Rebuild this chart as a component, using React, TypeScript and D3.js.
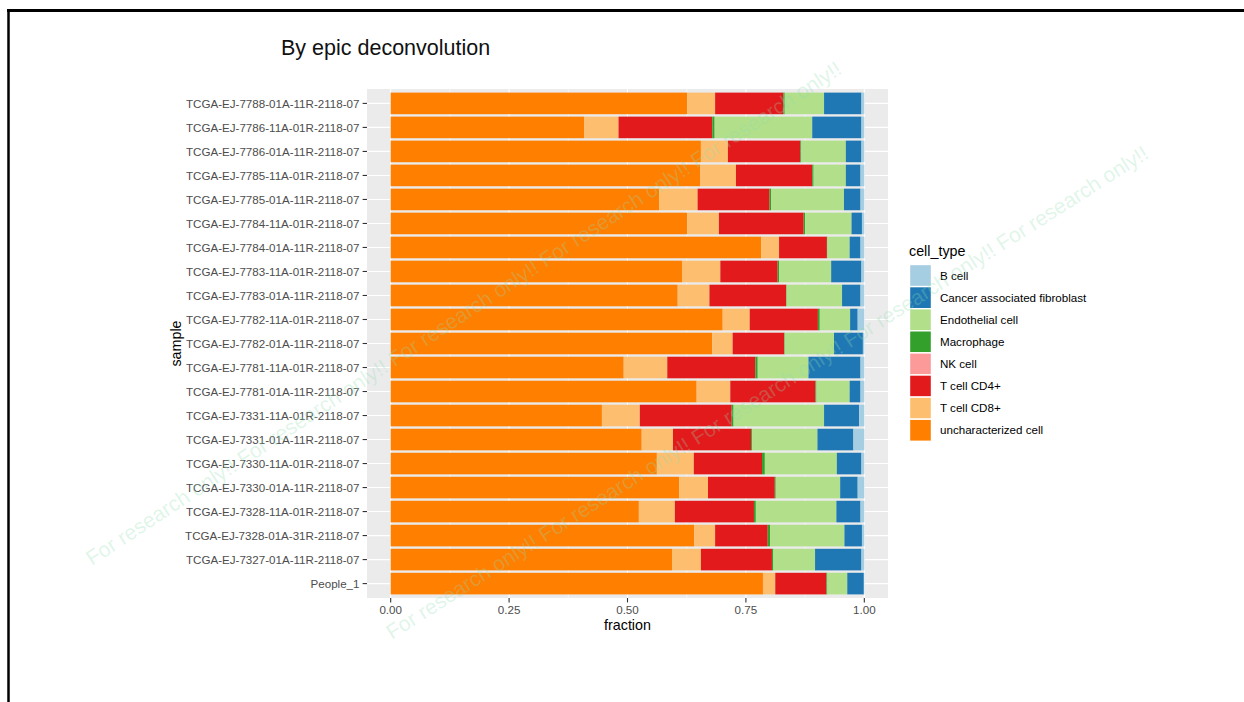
import React from "react";
import * as d3 from "d3";

const samples = [
  "TCGA-EJ-7788-01A-11R-2118-07",
  "TCGA-EJ-7786-11A-01R-2118-07",
  "TCGA-EJ-7786-01A-11R-2118-07",
  "TCGA-EJ-7785-11A-01R-2118-07",
  "TCGA-EJ-7785-01A-11R-2118-07",
  "TCGA-EJ-7784-11A-01R-2118-07",
  "TCGA-EJ-7784-01A-11R-2118-07",
  "TCGA-EJ-7783-11A-01R-2118-07",
  "TCGA-EJ-7783-01A-11R-2118-07",
  "TCGA-EJ-7782-11A-01R-2118-07",
  "TCGA-EJ-7782-01A-11R-2118-07",
  "TCGA-EJ-7781-11A-01R-2118-07",
  "TCGA-EJ-7781-01A-11R-2118-07",
  "TCGA-EJ-7331-11A-01R-2118-07",
  "TCGA-EJ-7331-01A-11R-2118-07",
  "TCGA-EJ-7330-11A-01R-2118-07",
  "TCGA-EJ-7330-01A-11R-2118-07",
  "TCGA-EJ-7328-11A-01R-2118-07",
  "TCGA-EJ-7328-01A-31R-2118-07",
  "TCGA-EJ-7327-01A-11R-2118-07",
  "People_1",
];

const uncharacterized = [0.626, 0.409, 0.655, 0.654, 0.567, 0.626, 0.782, 0.615, 0.606, 0.701, 0.679, 0.492, 0.646, 0.446, 0.530, 0.562, 0.609, 0.524, 0.641, 0.594, 0.786];
const tCD8 = [0.059, 0.072, 0.057, 0.075, 0.081, 0.067, 0.038, 0.081, 0.067, 0.057, 0.043, 0.092, 0.071, 0.080, 0.066, 0.078, 0.061, 0.076, 0.044, 0.061, 0.026];
const tCD4 = [0.144, 0.198, 0.153, 0.161, 0.152, 0.179, 0.101, 0.121, 0.162, 0.144, 0.109, 0.186, 0.180, 0.194, 0.165, 0.144, 0.141, 0.167, 0.111, 0.150, 0.108];
const nkCell = [0, 0, 0, 0, 0, 0, 0, 0, 0, 0, 0, 0, 0, 0, 0, 0, 0, 0, 0, 0, 0];
const macrophage = [0.003, 0.005, 0.002, 0.003, 0.003, 0.003, 0.001, 0.003, 0.001, 0.004, 0.001, 0.005, 0.002, 0.004, 0.002, 0.006, 0.002, 0.004, 0.005, 0.003, 0.002];
const endothelial = [0.083, 0.206, 0.094, 0.068, 0.154, 0.098, 0.047, 0.110, 0.117, 0.064, 0.104, 0.107, 0.070, 0.191, 0.138, 0.152, 0.136, 0.170, 0.157, 0.088, 0.042];
const caf = [0.079, 0.104, 0.033, 0.031, 0.035, 0.022, 0.023, 0.064, 0.039, 0.016, 0.061, 0.110, 0.023, 0.074, 0.076, 0.052, 0.037, 0.051, 0.037, 0.098, 0.035];
const bCell = [0.006, 0.006, 0.006, 0.008, 0.008, 0.005, 0.008, 0.006, 0.008, 0.014, 0.003, 0.008, 0.008, 0.011, 0.023, 0.006, 0.014, 0.008, 0.005, 0.006, 0.001];

const legendLabels = ["B cell", "Cancer associated fibroblast", "Endothelial cell", "Macrophage", "NK cell", "T cell CD4+", "T cell CD8+", "uncharacterized cell"];
const legendColors = ["#A6CEE3", "#1F78B4", "#B2DF8A", "#33A02C", "#FB9A99", "#E31A1C", "#FDBF6F", "#FF7F00"];
const xTicks = [0, 0.25, 0.5, 0.75, 1];
const xMinor = [0.125, 0.375, 0.625, 0.875];

// stacking order from left (0) to right (1)
const stackKeys = ["uncharacterized cell", "T cell CD8+", "T cell CD4+", "NK cell", "Macrophage", "Endothelial cell", "Cancer associated fibroblast", "B cell"];
const seriesByKey: Record<string, number[]> = {
  "uncharacterized cell": uncharacterized,
  "T cell CD8+": tCD8,
  "T cell CD4+": tCD4,
  "NK cell": nkCell,
  "Macrophage": macrophage,
  "Endothelial cell": endothelial,
  "Cancer associated fibroblast": caf,
  "B cell": bCell,
};

const FONT = "'Liberation Sans', Arial, Helvetica, sans-serif";
const watermark = "For research only!!  For research only!!  For research only!!  For research only!!  For research only!!";

export default function App() {
  const panel = { left: 367, right: 888, top: 89, bottom: 598 };
  const x = d3.scaleLinear().domain([-0.05, 1.05]).range([panel.left, panel.right]);
  const y = d3.scaleBand<string>().domain(samples).range([panel.top, panel.bottom]).paddingInner(0.1).paddingOuter(0.15);
  const color = d3.scaleOrdinal<string, string>().domain(legendLabels).range(legendColors);

  const rows = samples.map((s, i) => {
    const r: any = { sample: s };
    stackKeys.forEach((k) => (r[k] = seriesByKey[k][i]));
    return r;
  });
  const stacked = d3.stack<any>().keys(stackKeys)(rows);

  const tickColor = "#333333";
  const textColor = "#4D4D4D";

  return (
    <svg width={1244} height={702} style={{ position: "absolute", left: 0, top: 0, background: "#fff" }} fontFamily={FONT}>
      <rect x={0} y={0} width={1244} height={702} fill="#fff" />
      {/* frame */}
      <line x1={7} y1={10.5} x2={1250} y2={10.5} stroke="#000" strokeWidth={3} />
      <line x1={8.5} y1={9} x2={8.5} y2={710} stroke="#000" strokeWidth={2.5} />

      <text x={281} y={55} fontSize={21.5} fill="#111" fontWeight={300}>By epic deconvolution</text>

      {/* panel */}
      <rect x={panel.left} y={panel.top} width={panel.right - panel.left} height={panel.bottom - panel.top} fill="#EBEBEB" />
      {xMinor.map((t) => (
        <line key={"mn" + t} x1={x(t)} x2={x(t)} y1={panel.top} y2={panel.bottom} stroke="#fff" strokeWidth={0.55} />
      ))}
      {xTicks.map((t) => (
        <line key={"mj" + t} x1={x(t)} x2={x(t)} y1={panel.top} y2={panel.bottom} stroke="#fff" strokeWidth={1.1} />
      ))}
      {samples.map((s) => (
        <line key={"hg" + s} x1={panel.left} x2={panel.right} y1={y(s)! + y.bandwidth() / 2} y2={y(s)! + y.bandwidth() / 2} stroke="#fff" strokeWidth={1.1} />
      ))}

      {stacked.map((layer) => (
        <g key={layer.key} fill={color(layer.key)}>
          {layer.map((d, i) =>
            d[1] - d[0] > 0 ? (
              <rect key={i} x={x(d[0])} y={y(samples[i])} width={x(d[1]) - x(d[0])} height={y.bandwidth()} />
            ) : null
          )}
        </g>
      ))}

      {/* y axis */}
      {samples.map((s) => {
        const cy = y(s)! + y.bandwidth() / 2;
        return (
          <g key={"yt" + s}>
            <line x1={panel.left - 4.4} x2={panel.left} y1={cy} y2={cy} stroke={tickColor} strokeWidth={1.1} />
            <text x={panel.left - 7.5} y={cy} dy="0.36em" textAnchor="end" fontSize={11.6} fill={textColor}>{s}</text>
          </g>
        );
      })}
      {/* x axis */}
      {xTicks.map((t) => (
        <g key={"xt" + t}>
          <line x1={x(t)} x2={x(t)} y1={panel.bottom} y2={panel.bottom + 4.4} stroke={tickColor} strokeWidth={1.1} />
          <text x={x(t)} y={panel.bottom + 15.5} textAnchor="middle" fontSize={11.6} fill={textColor}>{d3.format(".2f")(t)}</text>
        </g>
      ))}
      <text x={(panel.left + panel.right) / 2} y={630} textAnchor="middle" fontSize={14.3} fill="#000">fraction</text>
      <text transform={`translate(181,${(panel.top + panel.bottom) / 2}) rotate(-90)`} textAnchor="middle" fontSize={14.3} fill="#000">sample</text>

      {/* legend */}
      <text x={909} y={256} fontSize={14.3} fill="#000">cell_type</text>
      {legendLabels.map((l, i) => (
        <g key={"lg" + l}>
          <rect x={909.5} y={264.5 + i * 22.1} width={22} height={22.1} fill={color(l)} stroke="#fff" strokeWidth={1.4} />
          <text x={940} y={264.5 + i * 22.1 + 11} dy="0.36em" fontSize={11.6} fill="#000">{l}</text>
        </g>
      ))}

      {/* watermarks */}
      <g fontSize={21} fill="#8fdcb0" fillOpacity={0.28}>
        <text transform="translate(92,566) rotate(-33.3)">{watermark}</text>
        <text transform="translate(392,640) rotate(-32.5)">{watermark}</text>
      </g>
    </svg>
  );
}
